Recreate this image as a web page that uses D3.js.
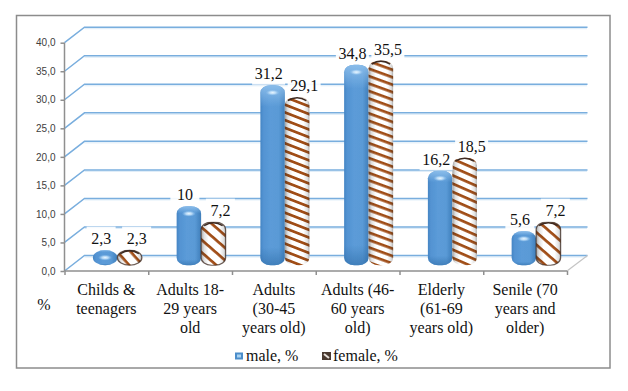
<!DOCTYPE html>
<html lang="en">
<head>
    <meta charset="UTF-8">
    <title>Age groups</title>
</head>
<style>
    html,body { margin:0; padding:0; background:#fff; }
    svg { display:block; }
    .axis--y text { font-family:"Liberation Sans",sans-serif; font-size:10px; fill:#404040; }
    .axis--y path, .axis--y line, .axis--x path, .axis--x line { stroke:#8f8f8f; stroke-width:1.5px; }
    .cat, .val, .leg, .unit { font-family:"Liberation Serif",serif; font-size:16px; fill:#111; }
    .grid { stroke:#79aede; stroke-width:1.5px; fill:none; }
    .gridshade { stroke:#dcebf7; stroke-width:1px; fill:none; }
</style>
<body>
<svg width="628" height="391"></svg>
<script src="https://d3js.org/d3.v7.min.js"></script>
<script>
    var categories=["Childs & teenagers","Adults 18-29 years old","Adults (30-45 years old)","Adults (46-60 years old)","Elderly (61-69 years old)","Senile (70 years and older)"];
    var categoryLines=[
        ["Childs &","teenagers"],
        ["Adults 18-","29 years","old"],
        ["Adults","(30-45","years old)"],
        ["Adults (46-","60 years","old)"],
        ["Elderly","(61-69","years old)"],
        ["Senile (70","years and","older)"]
    ];
    var male=[2.3,10,31.2,34.8,16.2,5.6];
    var female=[2.3,7.2,29.1,35.5,18.5,7.2];
    var maleLabels=["2,3","10","31,2","34,8","16,2","5,6"];
    var femaleLabels=["2,3","7,2","29,1","35,5","18,5","7,2"];
    var yTicks=[0,5,10,15,20,25,30,35,40];
    var seriesNames=["male, %","female, %"];

    var svg=d3.select("svg"),
        defs=svg.append("defs");
    var plotLeft=64.5,plotRight=567,plotBottom=271,plotTop=42.7,
        depthX=20,depthY=15.5;

    var x=d3.scaleBand().domain(categories).range([plotLeft,plotRight]);
    var xEdge=d3.scaleLinear().domain([0,6]).range([plotLeft,plotRight]);
    var y=d3.scaleLinear().domain([0,40]).range([plotBottom,plotTop]);
    var inner=d3.scaleBand().domain(["male","female"]).range([-24.5,24.5]);

    //frame
    svg.append("rect").attr("x",16.5).attr("y",15.5).attr("width",593.5).attr("height",352.5)
        .attr("fill","#fff").attr("stroke","#8c8c8c").attr("stroke-width",1.5);

    //gradients
    var g1=defs.append("linearGradient").attr("id","blueBody");
    [[0,"#4585c4"],[.12,"#5393d2"],[.4,"#5b9bd8"],[.75,"#5a9ad6"],[1,"#3f7eba"]].forEach(function (s) {
        g1.append("stop").attr("offset",s[0]).attr("stop-color",s[1]);
    });
    var g2=defs.append("linearGradient").attr("id","blueFade").attr("x2",0).attr("y2",1);
    g2.append("stop").attr("offset",0).attr("stop-color","#8fc0ec").attr("stop-opacity",.9);
    g2.append("stop").attr("offset",.12).attr("stop-color","#8fc0ec").attr("stop-opacity",0);
    g2.append("stop").attr("offset",.9).attr("stop-color","#2f6da8").attr("stop-opacity",0);
    g2.append("stop").attr("offset",1).attr("stop-color","#2f6da8").attr("stop-opacity",.6);
    var g3=defs.append("radialGradient").attr("id","glint");
    g3.append("stop").attr("offset",0).attr("stop-color","#eaf6ff");
    g3.append("stop").attr("offset",.45).attr("stop-color","#c4e2fa").attr("stop-opacity",.85);
    g3.append("stop").attr("offset",1).attr("stop-color","#8fc0ec").attr("stop-opacity",0);
    var g4=defs.append("linearGradient").attr("id","tubeShade");
    [[0,.42],[.12,.14],[.3,0],[.75,0],[.92,.14],[1,.38]].forEach(function (s) {
        g4.append("stop").attr("offset",s[0]).attr("stop-color","#222").attr("stop-opacity",s[1]);
    });
    defs.append("filter").attr("id","soft").append("feGaussianBlur").attr("stdDeviation",.35);

    //stripes get wider and steeper on short bars, like a stretched texture
    var stripePeriod=d3.scaleLinear().domain([16,40,100,200]).range([10,9.5,7.6,7]).clamp(true);
    var stripeAngle=d3.scaleLinear().domain([16,40,100,200]).range([48,42,24,20]).clamp(true);
    function stripePattern(id,h) {
        var p=stripePeriod(h);
        var pat=defs.append("pattern").attr("id",id).attr("patternUnits","userSpaceOnUse")
            .attr("width",30).attr("height",p)
            .attr("patternTransform","rotate("+stripeAngle(h)+")");
        pat.append("rect").attr("width",30).attr("height",p).attr("fill","#fff");
        pat.append("rect").attr("width",30).attr("height",2.7).attr("fill","#a04d17");
    }

    //walls
    var grid=svg.append("g");
    yTicks.forEach(function (t) {
        grid.append("line").attr("class","gridshade")
            .attr("x1",plotLeft+depthX).attr("x2",plotRight+depthX)
            .attr("y1",y(t)-depthY+1.5).attr("y2",y(t)-depthY+1.5);
        grid.append("path").attr("class","grid")
            .attr("d",d3.line()([[plotLeft,y(t)],[plotLeft+depthX,y(t)-depthY],[plotRight+depthX+.5,y(t)-depthY]]));
    });
    //floor edge on the right
    svg.append("line").attr("x1",plotRight).attr("y1",plotBottom).attr("x2",plotRight+depthX+.5).attr("y2",plotBottom-depthY)
        .attr("stroke","#c4c4c4").attr("stroke-width",1.2);

    //axes
    svg.append("g").attr("class","axis axis--y")
        .attr("transform","translate("+plotLeft+",0)")
        .call(d3.axisLeft(y).tickValues(yTicks).tickSize(4).tickPadding(5)
            .tickFormat(function (d) { return d3.format(".1f")(d).replace(".",","); }))
        .select(".domain").attr("d","M0,"+y(40)+"V"+y(0));
    svg.append("g").attr("class","axis axis--x")
        .attr("transform","translate(0,"+plotBottom+")")
        .call(d3.axisBottom(xEdge).ticks(6).tickSize(4).tickFormat(""))
        .select(".domain").attr("d","M"+plotLeft+",0H"+plotRight);

    //bars stand in the middle of the depth
    var shiftX=depthX/2+1,shiftY=depthY/2;
    var series=[
        {key:"male",values:male,labels:maleLabels,labelDx:-4},
        {key:"female",values:female,labels:femaleLabels,labelDx:7}
    ];
    var labelLayer=[];
    series.forEach(function (s) {
        var bars=svg.append("g").attr("class","series-"+s.key);
        s.values.forEach(function (v,i) {
            var cx=x(categories[i])+x.bandwidth()/2+shiftX+inner(s.key)+inner.bandwidth()/2,
                w=inner.bandwidth(),
                t=y(v)-shiftY,
                b=y(0)-shiftY+2,
                h=b-t,
                g=bars.append("g").attr("filter","url(#soft)");
            function body(fill) {
                return g.append("rect").attr("x",cx-w/2).attr("y",t).attr("width",w).attr("height",h)
                    .attr("rx",h<20?w/2:w*.42).attr("ry",Math.min(h/2,7.5)).attr("fill",fill);
            }
            if(s.key==="male") {
                body("url(#blueBody)");
                body("url(#blueFade)");
                g.append("ellipse").attr("cx",cx).attr("cy",t+Math.min(h/2,7.5))
                    .attr("rx",7).attr("ry",3).attr("fill","url(#glint)");
            } else {
                var id="stripe"+i;
                stripePattern(id,h);
                body("url(#"+id+")");
                body("url(#tubeShade)");
                //short tubes have a darker outline
                if(h<60) {
                    body("none").attr("stroke","#3d2a20").attr("stroke-width",1.2).attr("stroke-opacity",.75);
                }
                //dark rim at the top of the tube
                g.append("path")
                    .attr("d","M"+(cx-w/2+3)+","+(t+3.5)+"Q"+cx+","+(t-2.5)+" "+(cx+w/2-3)+","+(t+3.5))
                    .attr("fill","none").attr("stroke","#3d2a20").attr("stroke-width",1.5);
            }
            labelLayer.push({x:cx+s.labelDx,y:t-11.5,text:s.labels[i]});
        });
    });

    //data labels sit on small white boxes that cut the gridlines
    var labels=svg.append("g");
    labelLayer.forEach(function (d) {
        var box=labels.append("rect").attr("fill","#fff");
        var txt=labels.append("text").attr("class","val")
            .attr("x",d.x).attr("y",d.y).attr("dy","0.34em").attr("text-anchor","middle").text(d.text);
        var len=Math.max(txt.node().getComputedTextLength(),24);
        box.attr("x",d.x-len/2-2.5).attr("width",len+5).attr("y",d.y-12).attr("height",23)
            .attr("fill-opacity",.92);
    });

    //category labels
    categoryLines.forEach(function (lines,i) {
        var t=svg.append("text").attr("class","cat").attr("text-anchor","middle")
            .attr("x",x(categories[i])+x.bandwidth()/2).attr("y",295);
        lines.forEach(function (l,j) {
            t.append("tspan").attr("x",x(categories[i])+x.bandwidth()/2).attr("dy",j?"1.19em":0).text(l);
        });
    });
    svg.append("text").attr("class","unit").attr("x",44).attr("y",310).attr("text-anchor","middle").text("%");

    //legend
    var legendX=d3.scaleOrdinal().domain(seriesNames).range([235,322]);
    var sw=svg.append("g");
    sw.append("rect").attr("x",legendX(seriesNames[0])).attr("y",352.5).attr("width",8).attr("height",7).attr("fill","#4b8dca");
    sw.append("rect").attr("x",legendX(seriesNames[0])+2).attr("y",354.5).attr("width",4).attr("height",3).attr("fill","#a9d3f2");
    sw.append("rect").attr("x",legendX(seriesNames[1])).attr("y",352).attr("width",9).attr("height",8)
        .attr("fill","#4a3a30");
    sw.append("path").attr("d","M"+(legendX(seriesNames[1])+2)+",354L"+(legendX(seriesNames[1])+7)+",358")
        .attr("stroke","#e8e2dc").attr("stroke-width",2);
    seriesNames.forEach(function (n) {
        svg.append("text").attr("class","leg").attr("x",legendX(n)+11).attr("y",361).text(n);
    });
</script>
</body>
</html>
